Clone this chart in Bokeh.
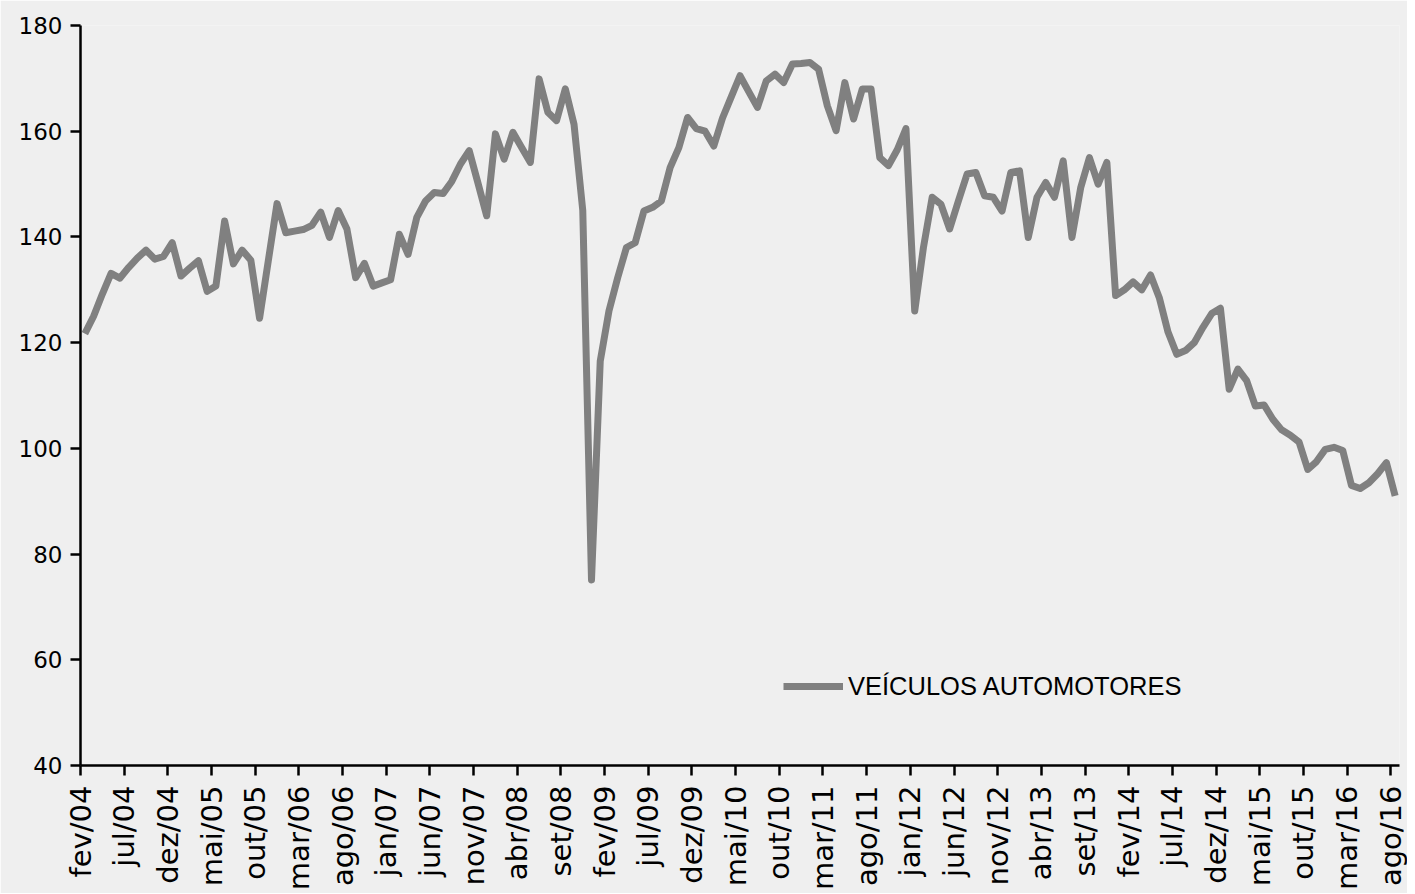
import math
from bokeh.plotting import figure
from bokeh.models import Range1d, FixedTicker, Legend, LegendItem
from bokeh.embed import file_html
from bokeh.resources import INLINE

series_name = "VEÍCULOS AUTOMOTORES"

tick_labels = ["fev/04", "jul/04", "dez/04", "mai/05", "out/05", "mar/06", "ago/06",
               "jan/07", "jun/07", "nov/07", "abr/08", "set/08", "fev/09", "jul/09",
               "dez/09", "mai/10", "out/10", "mar/11", "ago/11", "jan/12", "jun/12",
               "nov/12", "abr/13", "set/13", "fev/14", "jul/14", "dez/14", "mai/15",
               "out/15", "mar/16", "ago/16"]

y_ticks = [40, 60, 80, 100, 120, 140, 160, 180]

# monthly index, fev/04 .. ago/16
values_2004_2006 = [121.7, 125.0, 129.2, 133.1, 132.2, 134.2, 136.0, 137.5, 135.8, 136.3,
                    138.9, 132.6, 134.1, 135.5, 129.7, 130.7, 143.0, 134.9, 137.5, 135.6,
                    124.6, 135.5, 146.3, 140.8, 141.1, 141.4, 142.2, 144.7, 139.9, 145.0,
                    141.5, 132.3, 135.0, 130.7, 131.3]
values_2007_2009 = [131.9, 140.5, 136.7, 143.7, 146.8, 148.4, 148.2, 150.5, 153.8, 156.3,
                    150.2, 144.0, 159.5, 154.7, 159.8, 156.9, 154.1, 169.9, 163.6, 162.0,
                    168.0, 161.3, 145.0, 75.1, 116.5, 126.0, 132.3, 138.0, 138.9, 144.9,
                    145.6, 146.8, 153.1, 156.9, 162.6, 160.5]
values_2010_2012 = [160.0, 157.2, 162.5, 166.5, 170.5, 167.5, 164.5, 169.5, 170.8, 169.2,
                    172.7, 172.8, 173.0, 171.7, 164.8, 160.1, 169.2, 162.3, 168.0, 168.0,
                    155.0, 153.5, 156.5, 160.5, 126.0, 138.0, 147.5, 146.2, 141.5, 146.8,
                    151.9, 152.2, 147.8, 147.5, 144.9, 152.2]
values_2013_2016 = [152.5, 139.9, 147.5, 150.3, 147.5, 154.4, 139.9, 149.3, 155.0, 150.0,
                    154.1, 128.9, 130.0, 131.5, 130.0, 132.8, 128.5, 122.0, 117.8, 118.5,
                    120.0, 122.9, 125.5, 126.5, 111.2, 115.0, 112.8, 108.0, 108.2, 105.5,
                    103.5, 102.5, 101.2, 96.0, 97.5, 99.8, 100.2, 99.6, 93.0, 92.4,
                    93.5, 95.2, 97.3, 91.0]

values = values_2004_2006 + values_2007_2009 + values_2010_2012 + values_2013_2016
n = len(values)
x = [i + 0.5 for i in range(n)]  # points centred in their month slot

p = figure(frame_width=1319, frame_height=740,
           min_border_left=80, min_border_top=25, min_border_bottom=121, min_border_right=8,
           x_range=Range1d(0, n), y_range=Range1d(40, 180),
           output_backend="svg", toolbar_location=None,
           background_fill_color="#efefef", border_fill_color="#efefef")
p.outline_line_color = None
p.xgrid.visible = False
p.ygrid.visible = False

r = p.line(x, values, line_color="#808080", line_width=7, line_join="round")

tick_pos = [5 * j for j in range(len(tick_labels))]
p.xaxis.ticker = FixedTicker(ticks=tick_pos)
p.xaxis.major_label_overrides = {t: lab for t, lab in zip(tick_pos, tick_labels)}
p.xaxis.major_label_orientation = math.pi / 2
p.yaxis.ticker = FixedTicker(ticks=y_ticks)

for ax in (p.xaxis[0], p.yaxis[0]):
    ax.axis_line_color = "black"
    ax.axis_line_width = 2.5
    ax.major_tick_line_color = "black"
    ax.major_tick_line_width = 2.5
    ax.major_tick_out = 10
    ax.major_tick_in = 0
    ax.minor_tick_out = 0
    ax.minor_tick_in = 0
    ax.major_label_text_color = "black"
    ax.major_label_text_font = "DejaVu Sans"

p.xaxis.major_label_text_font_size = "29px"
p.xaxis.major_label_standoff = 10
p.yaxis.major_label_text_font_size = "23px"
p.yaxis.major_label_standoff = 8

legend = Legend(items=[LegendItem(label=series_name, renderers=[r])],
                location=(703, 64), padding=0, margin=0, spacing=0,
                glyph_width=60, glyph_height=30, label_height=30, label_standoff=5,
                label_text_font="Liberation Sans", label_text_font_size="25.5px",
                label_text_color="black", label_text_baseline="middle",
                background_fill_alpha=0, border_line_alpha=0)
p.add_layout(legend)

open("out.html", "w").write(file_html(p, INLINE))
